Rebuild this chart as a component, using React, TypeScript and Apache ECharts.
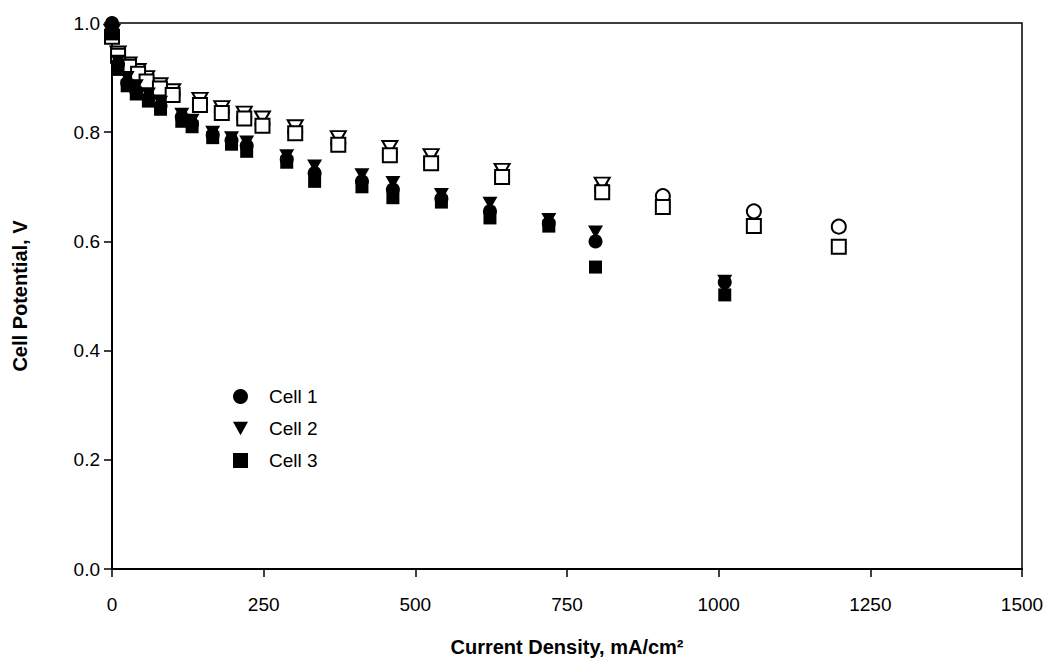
import React, { useEffect, useRef } from "react";
import * as echarts from "echarts";

const filledX = [0, 10, 25, 40, 60, 80, 115, 132, 166, 197, 222, 288, 334, 412, 463, 543, 623, 720, 797, 1010];
const cell1Filled = [1.0, 0.925, 0.89, 0.875, 0.862, 0.848, 0.828, 0.815, 0.795, 0.785, 0.775, 0.75, 0.725, 0.71, 0.695, 0.678, 0.655, 0.633, 0.6, 0.525];
const cell2Filled = [0.99, 0.93, 0.9, 0.885, 0.87, 0.855, 0.833, 0.822, 0.8, 0.79, 0.782, 0.757, 0.738, 0.722, 0.708, 0.686, 0.67, 0.64, 0.617, 0.527];
const cell3Filled = [0.98, 0.915, 0.885, 0.87, 0.857, 0.842, 0.82, 0.81, 0.79, 0.778, 0.765, 0.745, 0.71, 0.7, 0.68, 0.672, 0.643, 0.628, 0.553, 0.502];

const openX = [0, 10, 28, 43, 57, 79, 100, 145, 181, 218, 248, 302, 373, 458, 526, 643, 808, 908, 1058, 1198];
const cell1Open = [0.98, 0.942, 0.922, 0.909, 0.895, 0.882, 0.87, 0.852, 0.837, 0.827, 0.815, 0.8, 0.78, 0.76, 0.745, 0.72, 0.695, 0.683, 0.655, 0.627];
const cell2Open = [0.985, 0.945, 0.925, 0.913, 0.9, 0.887, 0.876, 0.86, 0.845, 0.835, 0.826, 0.81, 0.79, 0.772, 0.757, 0.73, 0.705];
const cell3Open = [0.975, 0.94, 0.92, 0.907, 0.893, 0.88, 0.868, 0.85, 0.835, 0.825, 0.812, 0.798, 0.777, 0.758, 0.743, 0.718, 0.69, 0.663, 0.628, 0.59];

const xTicks = [0, 250, 500, 750, 1000, 1250, 1500];
const yTicks = [0.0, 0.2, 0.4, 0.6, 0.8, 1.0];

const TRI_DOWN = "path://M0,0 L10,0 L5,9 Z";
const FONT = "Liberation Sans, Arial, sans-serif";

function pairs(xs: number[], ys: number[]) {
  return ys.map((y, i) => [xs[i], y]);
}

export default function App() {
  const ref = useRef<HTMLDivElement>(null);
  useEffect(() => {
    if (!ref.current) return;
    const chart = echarts.init(ref.current, null, { renderer: "svg" });
    const filledStyle = { color: "#000", opacity: 1 };
    const openStyle = { color: "#fff", borderColor: "#000", borderWidth: 2, opacity: 1 };
    chart.setOption({
      animation: false,
      backgroundColor: "#fff",
      grid: {
        left: 112,
        right: 30,
        top: 23,
        bottom: 99,
        show: true,
        borderColor: "#000",
        borderWidth: 1.5,
        backgroundColor: "transparent",
      },
      legend: {
        orient: "vertical",
        left: 228,
        top: 382,
        itemWidth: 15,
        itemHeight: 15,
        itemGap: 13,
        data: ["Cell 1", "Cell 2", "Cell 3"],
        textStyle: { fontFamily: FONT, fontSize: 19, color: "#000", padding: [0, 0, 0, 16] },
      },
      xAxis: {
        type: "value",
        min: 0,
        max: 1500,
        interval: 250,
        name: "Current Density, mA/cm²",
        nameLocation: "middle",
        nameGap: 68,
        nameTextStyle: { fontFamily: FONT, fontSize: 20, fontWeight: "bold", color: "#000" },
        axisLine: { show: true, lineStyle: { color: "#000", width: 2 } },
        axisTick: { show: true, inside: false, length: 8, lineStyle: { color: "#000", width: 1.5 } },
        axisLabel: {
          fontFamily: FONT,
          fontSize: 19,
          color: "#000",
          margin: 26,
          formatter: (v: number) => (xTicks.includes(v) ? String(v) : ""),
        },
        splitLine: { show: false },
      },
      yAxis: {
        type: "value",
        min: 0,
        max: 1.0,
        interval: 0.2,
        name: "Cell Potential, V",
        nameLocation: "middle",
        nameGap: 82,
        nameTextStyle: { fontFamily: FONT, fontSize: 20, fontWeight: "bold", color: "#000" },
        axisLine: { show: true, lineStyle: { color: "#000", width: 2 } },
        axisTick: { show: true, inside: false, length: 8, lineStyle: { color: "#000", width: 1.5 } },
        axisLabel: {
          fontFamily: FONT,
          fontSize: 19,
          color: "#000",
          margin: 12,
          formatter: (v: number) => {
            const t = yTicks.find((k) => Math.abs(k - v) < 1e-6);
            return t === undefined ? "" : t.toFixed(1);
          },
        },
        splitLine: { show: false },
      },
      series: [
        { name: "Cell 1 open", type: "scatter", symbol: "circle", symbolSize: 14, clip: false, itemStyle: openStyle, data: pairs(openX, cell1Open), z: 2 },
        { name: "Cell 2 open", type: "scatter", symbol: TRI_DOWN, symbolSize: [15, 13], clip: false, itemStyle: openStyle, data: pairs(openX, cell2Open), z: 3 },
        { name: "Cell 3 open", type: "scatter", symbol: "rect", symbolSize: 14, clip: false, itemStyle: openStyle, data: pairs(openX, cell3Open), z: 4 },
        { name: "Cell 1", type: "scatter", symbol: "circle", symbolSize: 14, clip: false, itemStyle: filledStyle, data: pairs(filledX, cell1Filled), z: 5 },
        { name: "Cell 2", type: "scatter", symbol: TRI_DOWN, symbolSize: [15, 13], clip: false, itemStyle: filledStyle, data: pairs(filledX, cell2Filled), z: 5 },
        { name: "Cell 3", type: "scatter", symbol: "rect", symbolSize: 13, clip: false, itemStyle: filledStyle, data: pairs(filledX, cell3Filled), z: 5 },
      ],
    });
    return () => chart.dispose();
  }, []);
  return <div ref={ref} style={{ width: 1052, height: 668, position: "absolute", left: 0, top: 0 }} />;
}
